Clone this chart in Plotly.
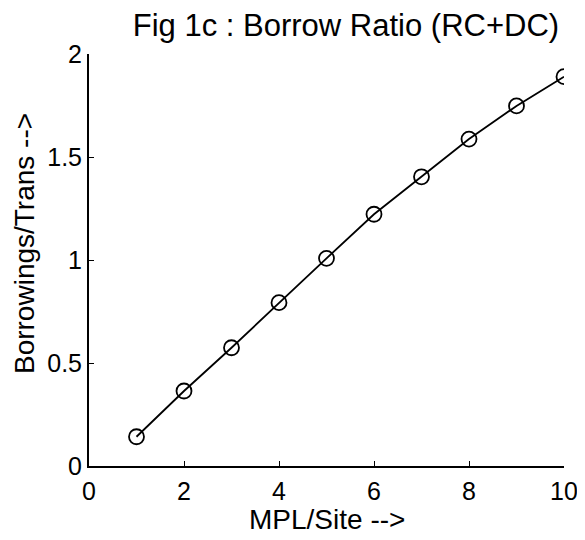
import plotly.graph_objects as go

mpl_per_site = [1, 2, 3, 4, 5, 6, 7, 8, 9, 10]
borrow_ratio = [0.142, 0.364, 0.574, 0.793, 1.008, 1.222, 1.404, 1.587, 1.748, 1.890]

x_ticks = [0, 2, 4, 6, 8, 10]
y_ticks = [0, 0.5, 1, 1.5, 2]
y_tick_labels = ["0", "0.5", "1", "1.5", "2"]

FONT = "Liberation Sans, Arial, Helvetica, sans-serif"

fig = go.Figure()
fig.add_trace(go.Scatter(
    x=mpl_per_site, y=borrow_ratio, mode="lines+markers",
    line=dict(color="black", width=1.8),
    marker=dict(symbol="circle-open", size=15, color="black", line=dict(width=1.8)),
    showlegend=False,
))

fig.update_layout(
    width=585, height=540,
    margin=dict(l=81, r=29, t=46, b=82),
    paper_bgcolor="white", plot_bgcolor="white",
    font=dict(family=FONT, color="black", size=25),
    title=dict(text="Fig 1c : Borrow Ratio (RC+DC)", x=0.541, xref="paper", xanchor="center",
               y=0.9685, yref="container", yanchor="middle",
               font=dict(size=31, family=FONT, color="black")),
    xaxis=dict(range=[0, 10], tickvals=x_ticks, ticks="inside", ticklen=5, tickcolor="black",
               showline=True, linecolor="black", linewidth=2, showgrid=False, zeroline=False,
               tickfont=dict(size=25), ticklabelstandoff=2),
    yaxis=dict(range=[0, 2], tickvals=y_ticks, ticktext=y_tick_labels, ticks="inside", ticklen=5,
               tickcolor="black", showline=True, linecolor="black", linewidth=2, showgrid=False,
               zeroline=False, tickfont=dict(size=25), ticklabelstandoff=0),
    annotations=[
        dict(text="MPL/Site -->", xref="paper", yref="paper", x=0.5, y=-0.129,
             xanchor="center", yanchor="middle", showarrow=False,
             font=dict(size=28, family=FONT, color="black")),
        dict(text="Borrowings/Trans -->", xref="paper", yref="paper", x=-0.137, y=0.541,
             xanchor="center", yanchor="middle", textangle=-90, showarrow=False,
             font=dict(size=28, family=FONT, color="black")),
    ],
)

fig.write_html("out.html")
